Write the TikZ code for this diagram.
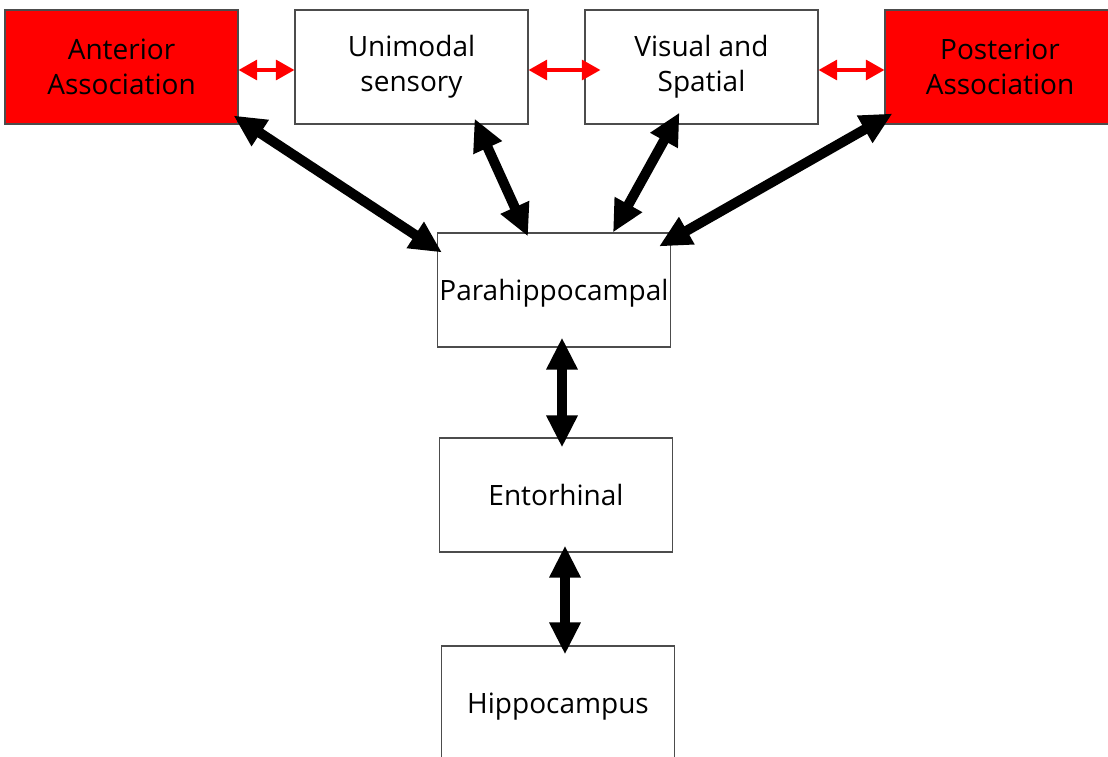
\documentclass[tikz,border=0pt]{standalone}
\usepackage{fontspec}
\setmainfont{Open Sans}
\usetikzlibrary{arrows.meta}
\tikzset{
  box/.style={draw=black!70, line width=0.8pt, minimum width=174.75pt, minimum height=85.5pt, align=center, inner sep=0pt, font=\fontsize{21}{26}\selectfont},
  onebox/.style={box, text depth=0pt},
  redbox/.style={box, fill=red},
  thick arrow/.style={line width=7.5pt, {Triangle[length=24pt,width=22pt]}-{Triangle[length=24pt,width=22pt]}},
  red arrow/.style={draw=red, line width=2.6pt, {Triangle[length=14pt,width=15pt]}-{Triangle[length=14pt,width=15pt]}}
}
\begin{document}
\begin{tikzpicture}[x=0.75pt,y=-0.75pt]
\useasboundingbox[fill=white] (0,0) rectangle (1108,757);
\node[redbox] (ant) at (121.5,67) {Anterior\\Association};
\node[box] (uni) at (411.5,67) {Unimodal\\sensory};
\node[box] (vis) at (701.5,67) {Visual and\\Spatial};
\node[redbox, minimum width=172.5pt] (post) at (1000,67) {Posterior\\Association};
\node[onebox] (para) at (554,290) {Parahippocampal};
\node[onebox] (ent) at (556,495) {Entorhinal};
\node[onebox] (hip) at (558,703) {Hippocampus};
\draw[red arrow] (ant.east |- 0,70) -- (uni.west |- 0,70);
\draw[red arrow] (uni.east |- 0,70) -- ([xshift=12]vis.west |- 0,70);
\draw[red arrow] (vis.east |- 0,70) -- (post.west |- 0,70);
\draw[thick arrow] ([shift={(-5,-9)}]ant.south east) -- ([shift={(5,20)}]para.north west);
\draw[thick arrow] ([shift={(-54,-6)}]uni.south east) -- ([shift={(-26,4)}]para.north);
\draw[thick arrow] ([shift={(-22,-12)}]vis.south) -- ([shift={(59,0)}]para.north);
\draw[thick arrow] ([shift={(8,-11)}]post.south west) -- ([shift={(-12,14)}]para.north east);
\draw[thick arrow] ([shift={(8,-10)}]para.south) -- ([shift={(6,10)}]ent.north);
\draw[thick arrow] ([shift={(9,-7)}]ent.south) -- ([shift={(7,9)}]hip.north);
\end{tikzpicture}
\end{document}
